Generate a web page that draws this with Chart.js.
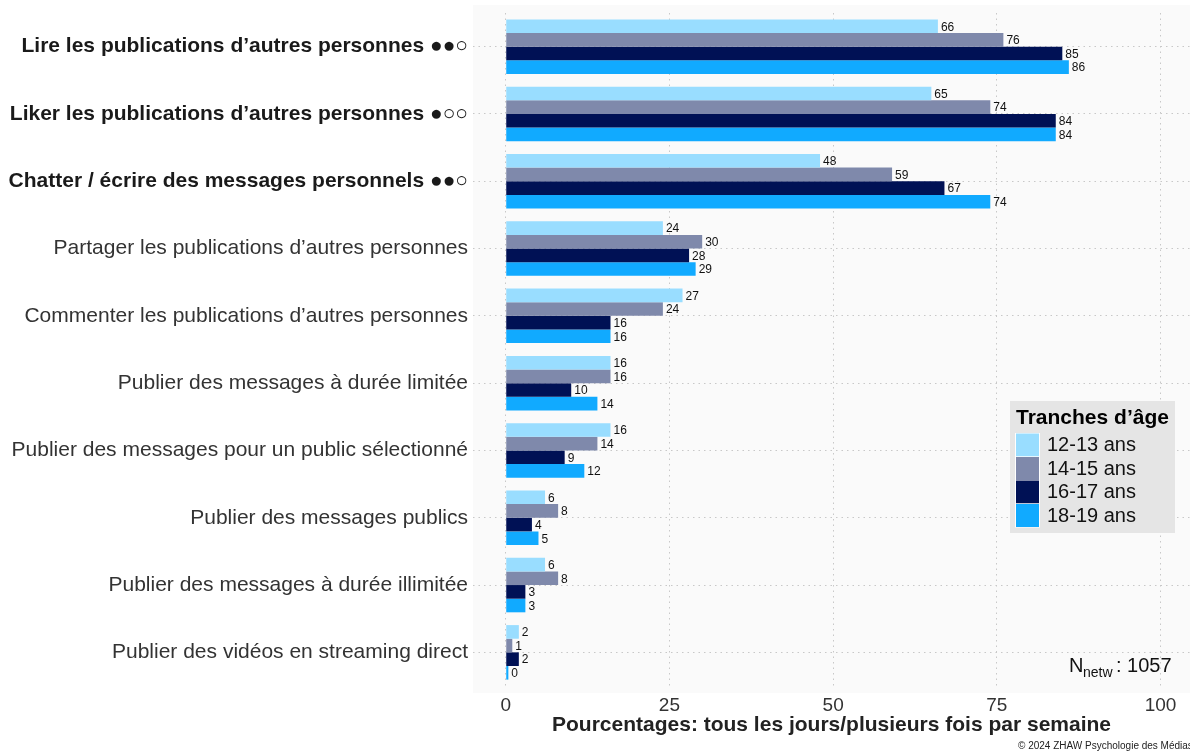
<!DOCTYPE html>
<html>
<head>
<meta charset="utf-8">
<script src="https://cdn.jsdelivr.net/npm/chart.js@4/dist/chart.umd.min.js"></script>
<style>
  body { margin: 0; background: #fff; }
  #wrap { width: 1190px; height: 751px; }
</style>
</head>
<body>
<div id="wrap"><canvas id="usage" width="1190" height="751"></canvas></div>
<script>
// activités (les 3 premières en gras)
var activites = [
  "Lire les publications d\u2019autres personnes \u25CF\u25CF\u25CB",
  "Liker les publications d\u2019autres personnes \u25CF\u25CB\u25CB",
  "Chatter / \u00E9crire des messages personnels \u25CF\u25CF\u25CB",
  "Partager les publications d\u2019autres personnes",
  "Commenter les publications d\u2019autres personnes",
  "Publier des messages \u00E0 dur\u00E9e limit\u00E9e",
  "Publier des messages pour un public s\u00E9lectionn\u00E9",
  "Publier des messages publics",
  "Publier des messages \u00E0 dur\u00E9e illimit\u00E9e",
  "Publier des vid\u00E9os en streaming direct"
];
var nbGras = 3;

var tranches = ["12-13 ans", "14-15 ans", "16-17 ans", "18-19 ans"];
var couleurs = ["#99ddff", "#7f89ab", "#001155", "#11aaff"];

var age1213 = [66, 65, 48, 24, 27, 16, 16, 6, 6, 2];
var age1415 = [76, 74, 59, 30, 24, 16, 14, 8, 8, 1];
var age1617 = [85, 84, 67, 28, 16, 10, 9, 4, 3, 2];
var age1819 = [86, 84, 74, 29, 16, 14, 12, 5, 3, 0.4];

var xTicks = [0, 25, 50, 75, 100];
var nNetw = 1057;

var series = [age1213, age1415, age1617, age1819];
var police = "'Liberation Sans', Arial, sans-serif";

/* fond gris du panneau */
var fondPanneau = {
  id: "fondPanneau",
  beforeDraw: function (chart) {
    var a = chart.chartArea, c = chart.ctx;
    c.save();
    c.fillStyle = "#fafafa";
    c.fillRect(a.left, a.top - 8, a.right - a.left, a.bottom - a.top + 15);
    c.restore();
  }
};

/* valeurs au bout des barres */
var etiquettes = {
  id: "etiquettes",
  afterDatasetsDraw: function (chart) {
    var c = chart.ctx;
    c.save();
    c.font = "12px " + police;
    c.fillStyle = "#111";
    c.textBaseline = "middle";
    chart.data.datasets.forEach(function (ds, i) {
      chart.getDatasetMeta(i).data.forEach(function (bar, j) {
        c.fillText(Math.round(ds.data[j]), bar.x + 3, bar.y + 1);
      });
    });
    c.restore();
  }
};

/* légende, N et copyright */
var extras = {
  id: "extras",
  afterDraw: function (chart) {
    var c = chart.ctx;
    c.save();
    // légende
    c.fillStyle = "#e5e5e5";
    c.fillRect(1010, 401, 165, 132);
    c.fillStyle = "#000";
    c.font = "bold 21px " + police;
    c.textBaseline = "middle";
    c.fillText("Tranches d\u2019\u00E2ge", 1016, 418);
    c.font = "20px " + police;
    tranches.forEach(function (t, i) {
      var y = 433 + i * 23.5;
      c.fillStyle = "#fff";
      c.fillRect(1015, y, 25, 24);
      c.fillStyle = couleurs[i];
      c.fillRect(1016, y + 0.5, 23, 23);
      c.fillStyle = "#111";
      c.fillText(t, 1047, y + 12.5);
    });
    // N
    c.textBaseline = "alphabetic";
    c.font = "20px " + police;
    c.fillStyle = "#111";
    c.fillText("N", 1069, 672);
    c.font = "14px " + police;
    c.fillText("netw", 1083, 677);
    c.font = "20px " + police;
    c.fillText(": " + nNetw, 1116, 672);
    // copyright
    c.font = "10px " + police;
    c.fillStyle = "#222";
    c.fillText("\u00A9 2024 ZHAW Psychologie des M\u00E9dias", 1018, 749);
    c.restore();
  }
};

var ctx = document.getElementById("usage");
var chart = new Chart(ctx, {
  type: "bar",
  data: {
    labels: activites,
    datasets: tranches.map(function (t, i) {
      return {
        label: t,
        data: series[i],
        backgroundColor: couleurs[i],
        borderWidth: 0,
        barPercentage: 1,
        categoryPercentage: 0.81
      };
    })
  },
  options: {
    indexAxis: "y",
    responsive: false,
    animation: false,
    layout: { padding: { top: 13, right: 0, left: 0, bottom: 0 } },
    plugins: {
      legend: { display: false },
      tooltip: { enabled: false }
    },
    scales: {
      x: {
        min: -5,
        max: 104.5,
        afterBuildTicks: function (scale) {
          scale.ticks = xTicks.map(function (v) { return { value: v }; });
        },
        afterFit: function (scale) { scale.height = 65; },
        border: { display: false, dash: [1.5, 4] },
        grid: {
          color: "#c8c8c8",
          lineWidth: 1,
          drawTicks: false
        },
        ticks: {
          padding: 8,
          color: "#333",
          font: { family: police, size: 19 }
        },
        title: {
          display: true,
          text: "Pourcentages: tous les jours/plusieurs fois par semaine",
          color: "#222",
          font: { family: police, size: 21, weight: "bold" },
          padding: { top: 0, bottom: 13 }
        }
      },
      y: {
        afterFit: function (scale) {
          scale.width = 473;
          scale.paddingTop = 0;
          scale.paddingBottom = 0;
        },
        border: { display: false, dash: [1.5, 4] },
        grid: {
          offset: false,
          color: "#c8c8c8",
          lineWidth: 1,
          drawTicks: false
        },
        ticks: {
          padding: 5,
          color: function (c) { return c.index < nbGras ? "#1a1a1a" : "#333"; },
          font: function (c) {
            return { family: police, size: 21, weight: c.index < nbGras ? "bold" : "normal" };
          }
        }
      }
    }
  },
  plugins: [fondPanneau, etiquettes, extras]
});
</script>
</body>
</html>
